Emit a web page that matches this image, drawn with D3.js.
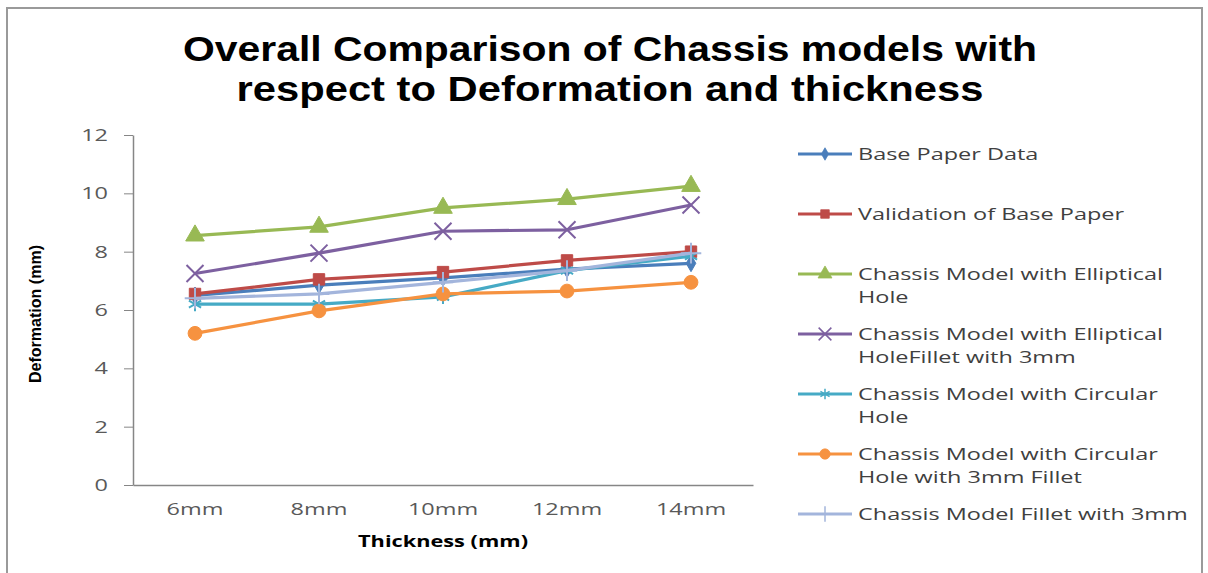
<!DOCTYPE html>
<html>
<head>
<meta charset="utf-8">
<script src="https://cdn.jsdelivr.net/npm/d3@7"></script>
<style>
  body { margin: 0; background: #fff; }
  svg { display: block; }
</style>
</head>
<body>
<svg id="chart" width="1208" height="573"></svg>
<script>
// ---- data ----
const categories = ["6mm", "8mm", "10mm", "12mm", "14mm"];
const yTicks = [0, 2, 4, 6, 8, 10, 12];

const basePaperData       = [6.5, 6.85, 7.1, 7.4, 7.6];
const validationBasePaper = [6.55, 7.05, 7.3, 7.7, 8.0];
const ellipticalHole      = [8.55, 8.85, 9.5, 9.8, 10.25];
const ellipticalFillet    = [7.25, 7.95, 8.7, 8.75, 9.6];
const circularHole        = [6.2, 6.2, 6.45, 7.35, 7.85];
const circularFillet      = [5.2, 5.97, 6.55, 6.65, 6.95];
const filletWith3mm       = [6.4, 6.55, 6.95, 7.35, 7.95];

const legendLabels = [
  ["Base Paper Data"],
  ["Validation of Base Paper"],
  ["Chassis Model with Elliptical", "Hole"],
  ["Chassis Model with Elliptical", "HoleFillet with 3mm"],
  ["Chassis Model with Circular", "Hole"],
  ["Chassis Model with Circular", "Hole with 3mm Fillet"],
  ["Chassis Model Fillet with 3mm"]
];

const series = [
  { values: basePaperData,       color: "#4A7EBB", symbol: d3.symbolDiamond,  size: 80,  stroke: false },
  { values: validationBasePaper, color: "#BE4B48", symbol: d3.symbolSquare,   size: 130, stroke: false },
  { values: ellipticalHole,      color: "#98B954", symbol: d3.symbolTriangle, size: 150, stroke: false },
  { values: ellipticalFillet,    color: "#7D60A0", symbol: d3.symbolX,        size: 190, stroke: true  },
  { values: circularHole,        color: "#46AAC5", symbol: d3.symbolAsterisk, size: 140, stroke: true  },
  { values: circularFillet,      color: "#F69240", symbol: d3.symbolCircle,   size: 150, stroke: false },
  { values: filletWith3mm,       color: "#A3B5DC", symbol: d3.symbolPlus,     size: 140, stroke: true  }
];
series.forEach((s, i) => s.label = legendLabels[i]);

// ---- layout ----
const svg = d3.select("#chart");
const plot = { left: 133, right: 753, top: 135, bottom: 485 };
const bodyFont = "'Open Sans', sans-serif";
const headFont = "'Liberation Sans Narrow', 'Liberation Sans', sans-serif";

// outer frame
svg.append("rect")
  .attr("x", 7).attr("y", 8).attr("width", 1195).attr("height", 575)
  .attr("fill", "#fff").attr("stroke", "#9a9a9a").attr("stroke-width", 2);

// horizontal stretch factor used for the wide-set body text
const probe = svg.append("text")
  .attr("font-family", bodyFont).attr("font-size", 16)
  .text("Chassis Model with Elliptical");
const sx = 305 / probe.node().getComputedTextLength();
probe.remove();
function stretch(sel) {
  sel.each(function () {
    const w = this.getComputedTextLength();
    d3.select(this).attr("textLength", w * sx).attr("lengthAdjust", "spacingAndGlyphs");
  });
}

// title
const titleLines = ["Overall Comparison of Chassis models with", "respect to Deformation and thickness"];
const titleWidths = [854, 747];
svg.append("g").selectAll("text").data(titleLines).join("text")
  .attr("x", 610).attr("y", (d, i) => 61 + i * 40)
  .attr("text-anchor", "middle")
  .attr("font-family", headFont)
  .attr("font-weight", "bold").attr("font-size", 35)
  .attr("fill", "#000")
  .attr("textLength", (d, i) => titleWidths[i])
  .attr("lengthAdjust", "spacingAndGlyphs")
  .text(d => d);

// scales
const x = d3.scaleBand().domain(categories).range([plot.left, plot.right]).padding(0);
const xc = d => x(d) + x.bandwidth() / 2;
const y = d3.scaleLinear().domain([0, 12]).range([plot.bottom, plot.top]);

// y axis
const yAxis = svg.append("g")
  .attr("transform", `translate(${plot.left},0)`)
  .call(d3.axisLeft(y).tickValues(yTicks).tickSize(9).tickSizeOuter(0).tickPadding(16));
yAxis.select(".domain").attr("stroke", "#868686").attr("stroke-width", 1.5);
yAxis.selectAll(".tick line").attr("stroke", "#868686").attr("stroke-width", 1);
yAxis.selectAll(".tick text")
  .attr("font-family", bodyFont).attr("font-size", 16)
  .attr("fill", "#595959").attr("dy", "0.35em")
  .call(stretch);

// x axis
const xAxis = svg.append("g")
  .attr("transform", `translate(0,${plot.bottom})`)
  .call(d3.axisBottom(x).tickSize(0).tickSizeOuter(0).tickPadding(19));
xAxis.select(".domain").attr("stroke", "#868686").attr("stroke-width", 1.5);
xAxis.selectAll(".tick text")
  .attr("font-family", bodyFont).attr("font-size", 16)
  .attr("fill", "#595959")
  .call(stretch);

// axis titles
svg.append("text")
  .attr("x", 443).attr("y", 547)
  .attr("text-anchor", "middle")
  .attr("font-family", bodyFont).attr("font-weight", "bold").attr("font-size", 16)
  .attr("textLength", 170).attr("lengthAdjust", "spacingAndGlyphs")
  .text("Thickness (mm)");

svg.append("text")
  .attr("transform", "translate(41,314) rotate(-90)")
  .attr("text-anchor", "middle")
  .attr("font-family", headFont).attr("font-weight", "bold").attr("font-size", 16)
  .attr("textLength", 138).attr("lengthAdjust", "spacingAndGlyphs")
  .text("Deformation (mm)");

// series lines and markers
const line = d3.line().x((d, i) => xc(categories[i])).y(d => y(d));
const seriesG = svg.append("g");
function drawMarker(g, s) {
  const path = d3.symbol().type(s.symbol).size(s.size)();
  g.append("path").attr("d", path)
    .attr("fill", s.stroke ? "none" : s.color)
    .attr("stroke", s.color)
    .attr("stroke-width", s.stroke ? 2 : 1);
}
series.forEach(s => {
  const g = seriesG.append("g");
  g.append("path").datum(s.values)
    .attr("d", line)
    .attr("fill", "none").attr("stroke", s.color).attr("stroke-width", 3.2)
    .attr("stroke-linejoin", "round");
  s.values.forEach((v, i) => {
    const m = g.append("g").attr("transform", `translate(${xc(categories[i])},${y(v)})`);
    drawMarker(m, s);
  });
});

// legend
const legendRows = [154, 214, 274, 334, 394, 454, 514];
const legend = svg.append("g");
series.forEach((s, i) => {
  const gy = legendRows[i];
  const g = legend.append("g");
  g.append("line").attr("x1", 798).attr("x2", 852).attr("y1", gy).attr("y2", gy)
    .attr("stroke", s.color).attr("stroke-width", 3);
  const m = g.append("g").attr("transform", `translate(825,${gy}) scale(0.75)`);
  drawMarker(m, s);
  s.label.forEach((t, j) => {
    g.append("text")
      .attr("x", 858).attr("y", gy + j * 23)
      .attr("dy", "0.35em")
      .attr("font-family", bodyFont).attr("font-size", 16)
      .attr("fill", "#404040")
      .text(t)
      .call(stretch);
  });
});
</script>
</body>
</html>
